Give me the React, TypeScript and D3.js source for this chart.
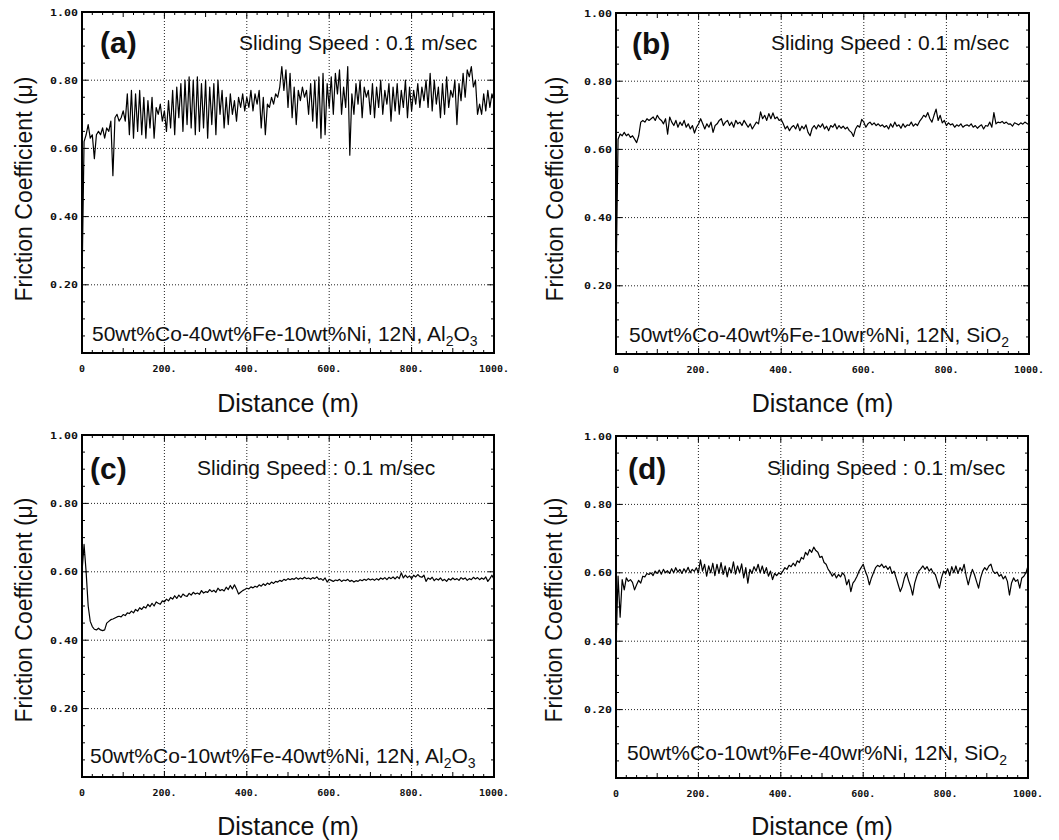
import * as d3 from "d3";
import React from "react";

const width = 1059;
const height = 840;

// sampling step of the recorded traces (m)
const stepM = 5;

const xTicks = [0, 200, 400, 600, 800, 1000];
const yTicks = [0.2, 0.4, 0.6, 0.8, 1.0];

// (a) 50Co-40Fe-10Ni vs Al2O3
const muA = [
  0.2, 0.62, 0.64, 0.67, 0.63, 0.64, 0.57, 0.64, 0.65, 0.64, 0.66, 0.63, 0.66, 0.65, 0.68, 0.52,
  0.69, 0.7, 0.68, 0.69, 0.71, 0.68, 0.76, 0.64, 0.77, 0.63, 0.76, 0.65, 0.77, 0.64, 0.75, 0.63,
  0.74, 0.66, 0.75, 0.63, 0.72, 0.7, 0.73, 0.68, 0.71, 0.65, 0.74, 0.66, 0.77, 0.64, 0.78, 0.69,
  0.79, 0.65, 0.8, 0.67, 0.81, 0.66, 0.8, 0.64, 0.81, 0.65, 0.79, 0.66, 0.8, 0.63, 0.78, 0.67,
  0.79, 0.64, 0.8, 0.7, 0.77, 0.66, 0.75, 0.67, 0.76, 0.7, 0.74, 0.68, 0.75, 0.72, 0.76, 0.71,
  0.75, 0.72, 0.77, 0.71, 0.76, 0.73, 0.77, 0.66, 0.75, 0.64, 0.73, 0.72, 0.75, 0.73, 0.76, 0.75,
  0.78, 0.84, 0.77, 0.83, 0.72, 0.82, 0.69, 0.78, 0.67, 0.77, 0.74, 0.78, 0.75, 0.77, 0.7, 0.79,
  0.68, 0.8, 0.66, 0.81, 0.63, 0.82, 0.64, 0.79, 0.72, 0.81, 0.7, 0.82, 0.76, 0.83, 0.7, 0.78,
  0.72, 0.84, 0.58, 0.76, 0.7, 0.79, 0.73, 0.8, 0.69, 0.78, 0.75, 0.77, 0.7, 0.79, 0.69, 0.78,
  0.72, 0.8, 0.7, 0.77, 0.73, 0.79, 0.68, 0.78, 0.71, 0.79, 0.7, 0.77, 0.72, 0.8, 0.69, 0.78,
  0.71, 0.77, 0.73, 0.79, 0.72, 0.78, 0.74, 0.8, 0.72, 0.82, 0.71, 0.8, 0.73, 0.78, 0.69, 0.79,
  0.7, 0.81, 0.72, 0.77, 0.75, 0.8, 0.67, 0.79, 0.74, 0.82, 0.75, 0.83, 0.81, 0.84, 0.78, 0.8,
  0.7, 0.73, 0.7, 0.76, 0.71, 0.77, 0.72, 0.76, 0.74,
];

// (b) 50Co-40Fe-10Ni vs SiO2
const muB = [
  0.2, 0.63, 0.645, 0.64, 0.65, 0.64, 0.645, 0.635, 0.64, 0.63, 0.62, 0.64, 0.68, 0.685, 0.68, 0.69,
  0.685, 0.69, 0.695, 0.685, 0.7, 0.69, 0.685, 0.675, 0.69, 0.645, 0.695, 0.68, 0.67, 0.685, 0.665, 0.68,
  0.67, 0.685, 0.665, 0.675, 0.66, 0.67, 0.648, 0.665, 0.675, 0.69, 0.675, 0.66, 0.675, 0.665, 0.68, 0.65,
  0.67, 0.675, 0.685, 0.69, 0.67, 0.68, 0.685, 0.67, 0.68, 0.665, 0.685, 0.675, 0.68, 0.67, 0.685, 0.675,
  0.665, 0.675, 0.66, 0.67, 0.68, 0.675, 0.71, 0.69, 0.7, 0.685, 0.705, 0.69, 0.707, 0.69, 0.695, 0.685,
  0.688, 0.675, 0.66, 0.668, 0.655, 0.665, 0.67, 0.66, 0.675, 0.655, 0.668, 0.66, 0.672, 0.65, 0.64, 0.662,
  0.67, 0.66, 0.672, 0.665, 0.675, 0.66, 0.668, 0.655, 0.67, 0.665, 0.675, 0.66, 0.67, 0.662, 0.668, 0.66,
  0.665, 0.655, 0.65, 0.638, 0.66, 0.67, 0.665, 0.688, 0.68, 0.665, 0.675, 0.68, 0.672, 0.678, 0.67, 0.675,
  0.668, 0.672, 0.665, 0.67, 0.66, 0.675, 0.665, 0.68, 0.668, 0.672, 0.662, 0.675, 0.665, 0.672, 0.67, 0.68,
  0.668, 0.675, 0.67, 0.682, 0.69, 0.7, 0.695, 0.708, 0.69, 0.68, 0.7, 0.718, 0.685, 0.7, 0.678, 0.685,
  0.67, 0.678, 0.672, 0.675, 0.665, 0.672, 0.668, 0.675, 0.665, 0.67, 0.672, 0.668, 0.675, 0.665, 0.67, 0.662,
  0.668, 0.672, 0.66, 0.67, 0.668, 0.68, 0.665, 0.708, 0.675, 0.68, 0.678, 0.682, 0.676, 0.68, 0.674, 0.675,
  0.668, 0.678, 0.675, 0.672, 0.678, 0.674, 0.68, 0.676, 0.672,
];

// (c) 50Co-10Fe-40Ni vs Al2O3
const muC = [
  0.6, 0.68, 0.6, 0.5, 0.455, 0.44, 0.432, 0.43, 0.435, 0.43, 0.428, 0.43, 0.45, 0.455, 0.46, 0.462,
  0.465, 0.468, 0.47, 0.468, 0.475, 0.472, 0.48, 0.478, 0.485, 0.48, 0.49, 0.485, 0.495, 0.49, 0.498, 0.494,
  0.505, 0.498, 0.508, 0.5, 0.512, 0.508, 0.505, 0.515, 0.512, 0.52, 0.515, 0.525, 0.52, 0.53, 0.522, 0.532,
  0.525, 0.535, 0.53, 0.528, 0.537, 0.532, 0.54, 0.535, 0.538, 0.534, 0.545, 0.538, 0.542, 0.54, 0.548, 0.542,
  0.546, 0.54, 0.552, 0.545, 0.548, 0.544, 0.555, 0.548, 0.56, 0.55, 0.562, 0.55, 0.535, 0.54, 0.545, 0.548,
  0.552, 0.55, 0.556, 0.553, 0.558, 0.555, 0.562, 0.558, 0.565, 0.56, 0.567, 0.563, 0.57, 0.566, 0.572, 0.57,
  0.575, 0.572, 0.578, 0.575, 0.58, 0.577, 0.58, 0.578, 0.583, 0.578, 0.582, 0.579, 0.584, 0.58, 0.582, 0.578,
  0.583, 0.58, 0.585, 0.578, 0.58, 0.575, 0.582, 0.57, 0.578, 0.575, 0.572, 0.576, 0.574, 0.578, 0.572, 0.576,
  0.574, 0.578, 0.572, 0.575, 0.57, 0.574, 0.572, 0.577, 0.574, 0.578, 0.575, 0.58, 0.576, 0.579, 0.575, 0.58,
  0.576, 0.582, 0.578, 0.583, 0.577, 0.584, 0.58, 0.585, 0.579, 0.586, 0.58, 0.597, 0.582, 0.59, 0.583, 0.588,
  0.58, 0.59, 0.585, 0.592, 0.586, 0.584, 0.59, 0.572, 0.582, 0.578, 0.584, 0.574, 0.58, 0.576, 0.582, 0.574,
  0.578, 0.572, 0.58, 0.576, 0.582, 0.577, 0.58, 0.575, 0.583, 0.578, 0.582, 0.575, 0.58, 0.577, 0.584, 0.579,
  0.583, 0.577, 0.582, 0.578, 0.585, 0.572, 0.58, 0.59, 0.578,
];

// (d) 50Co-10Fe-40Ni vs SiO2
const muD = [
  0.38, 0.59, 0.47, 0.58, 0.55, 0.585, 0.575, 0.58, 0.572, 0.55, 0.565, 0.578, 0.57, 0.59, 0.588, 0.598,
  0.595, 0.6, 0.592, 0.605, 0.598, 0.608, 0.596, 0.61, 0.6, 0.606, 0.598, 0.612, 0.6, 0.615, 0.602, 0.61,
  0.598, 0.612, 0.602, 0.616, 0.6, 0.61, 0.604, 0.615, 0.6, 0.638, 0.605, 0.625, 0.59, 0.62, 0.6, 0.628,
  0.592, 0.625, 0.598, 0.63, 0.595, 0.62, 0.588, 0.615, 0.6, 0.632, 0.596, 0.62, 0.6, 0.626, 0.585, 0.615,
  0.57, 0.61, 0.598, 0.618, 0.605, 0.625, 0.6, 0.62, 0.598, 0.615, 0.59, 0.605, 0.58, 0.598, 0.592, 0.6,
  0.596, 0.605, 0.615, 0.61, 0.622, 0.618, 0.628, 0.62, 0.635, 0.63, 0.645, 0.64, 0.66, 0.652, 0.668, 0.66,
  0.675, 0.665, 0.66, 0.645, 0.648, 0.63, 0.625, 0.61, 0.602, 0.59, 0.598, 0.585, 0.595, 0.588, 0.6, 0.592,
  0.565, 0.58, 0.545, 0.57, 0.578, 0.59, 0.605, 0.615, 0.625, 0.605, 0.59, 0.565, 0.585, 0.6, 0.615, 0.622,
  0.618, 0.625, 0.615, 0.62, 0.61, 0.618, 0.598, 0.605, 0.585, 0.565, 0.545, 0.56, 0.585, 0.6, 0.578, 0.56,
  0.535, 0.57, 0.59, 0.605, 0.612, 0.62, 0.61, 0.618, 0.605, 0.612, 0.6, 0.595, 0.575, 0.555, 0.585, 0.605,
  0.598, 0.612, 0.592, 0.618, 0.6, 0.62, 0.598, 0.615, 0.605, 0.625, 0.59, 0.565, 0.59, 0.61, 0.595, 0.575,
  0.555, 0.585, 0.605, 0.615, 0.608, 0.62, 0.625, 0.605, 0.598, 0.602, 0.59, 0.595, 0.582, 0.59, 0.575, 0.535,
  0.57, 0.585, 0.575, 0.58, 0.555, 0.585, 0.59, 0.6, 0.62,
];

const tags = ["(a)", "(b)", "(c)", "(d)"];
const alloys = [
  "50wt%Co-40wt%Fe-10wt%Ni, 12N, ",
  "50wt%Co-40wt%Fe-10wr%Ni, 12N, ",
  "50wt%Co-10wt%Fe-40wt%Ni, 12N, ",
  "50wt%Co-10wt%Fe-40wr%Ni, 12N, ",
];
const counterparts = [
  ["Al", "2", "O", "3"],
  ["SiO", "2", "", ""],
  ["Al", "2", "O", "3"],
  ["SiO", "2", "", ""],
];
const speedLabel = "Sliding Speed : 0.1 m/sec";
const series = [muA, muB, muC, muD];

// layout of each panel: plot box [left, top, right, bottom] and text offsets
const layout = [
  { box: [82, 12, 494, 353], tag: [18, 41], speed: [157, 37.5], alloy: [10, 12], ylab: 32, ycen: 189, xlabY: 412 },
  { box: [616, 13, 1029, 354], tag: [16, 41], speed: [155, 37], alloy: [13, 12], ylab: 563, ycen: 189, xlabY: 412 },
  { box: [82, 435, 494, 777], tag: [8, 44], speed: [115, 40], alloy: [8, 14], ylab: 32, ycen: 610, xlabY: 835 },
  { box: [616, 436, 1028, 778], tag: [12, 43], speed: [151, 39], alloy: [11, 18], ylab: 562, ycen: 610, xlabY: 835 },
];

const sans = "'Liberation Sans', Arial, sans-serif";
const mono = "'DejaVu Sans Mono', monospace";

const Panel = ({ i }: { i: number }) => {
  const L = layout[i];
  const [x0, y0, x1, y1] = L.box;
  const x = d3.scaleLinear().domain([0, 1000]).range([x0, x1]);
  const y = d3.scaleLinear().domain([0, 1]).range([y1, y0]);
  const path = d3
    .line<number>()
    .x((_, k) => x(k * stepM))
    .y((d) => y(d))(series[i]);
  const xMinor = d3.range(0, 1001, 25);
  const yMinor = d3.range(0, 21).map((k) => k * 0.05);
  const sub = counterparts[i];
  return (
    <g>
      {/* grid */}
      {xTicks.slice(1, -1).map((t) => (
        <line key={"gx" + t} x1={x(t)} x2={x(t)} y1={y0} y2={y1} stroke="#222" strokeWidth={1} strokeDasharray="1,2" />
      ))}
      {yTicks.slice(0, -1).map((t) => (
        <line key={"gy" + t} x1={x0} x2={x1} y1={y(t)} y2={y(t)} stroke="#222" strokeWidth={1} strokeDasharray="1,2" />
      ))}
      {/* minor / major ticks on all four sides */}
      {xMinor.map((t) => {
        const len = t % 200 === 0 ? 6 : t % 100 === 0 ? 5 : 3;
        return (
          <g key={"tx" + t} stroke="#000" strokeWidth={1}>
            <line x1={x(t)} x2={x(t)} y1={y1} y2={y1 - len} />
            <line x1={x(t)} x2={x(t)} y1={y0} y2={y0 + len} />
          </g>
        );
      })}
      {yMinor.map((t, k) => {
        const len = k % 4 === 0 ? 6 : 3;
        return (
          <g key={"ty" + k} stroke="#000" strokeWidth={1}>
            <line x1={x0} x2={x0 + len} y1={y(t)} y2={y(t)} />
            <line x1={x1} x2={x1 - len} y1={y(t)} y2={y(t)} />
          </g>
        );
      })}
      {/* trace */}
      <path d={path ?? ""} fill="none" stroke="#000" strokeWidth={1.2} strokeLinejoin="round" />
      {/* frame */}
      <rect x={x0} y={y0} width={x1 - x0} height={y1 - y0} fill="none" stroke="#000" strokeWidth={2} />
      {/* tick labels */}
      {yTicks.map((t) => (
        <text
          key={"ly" + t}
          x={x0 - 4}
          y={y(t) + 3.5}
          textAnchor="end"
          fontFamily={mono}
          fontWeight="bold"
          fontSize={9}
          textLength={28}
          lengthAdjust="spacingAndGlyphs"
          fill="#111"
        >
          {d3.format(".2f")(t)}
        </text>
      ))}
      {xTicks.map((t) => {
        const s = t === 0 ? "0" : `${t}.`;
        return (
          <text
            key={"lx" + t}
            x={x(t)}
            y={y1 + 19}
            textAnchor="middle"
            fontFamily={mono}
            fontWeight="bold"
            fontSize={9}
            textLength={s.length * 6}
            lengthAdjust="spacingAndGlyphs"
            fill="#111"
          >
            {s}
          </text>
        );
      })}
      {/* annotations */}
      <text x={x0 + L.tag[0]} y={y0 + L.tag[1]} fontFamily={sans} fontWeight="bold" fontSize={30} fill="#111">
        {tags[i]}
      </text>
      <text x={x0 + L.speed[0]} y={y0 + L.speed[1]} fontFamily={sans} fontSize={21} fill="#111">
        {speedLabel}
      </text>
      <text x={x0 + L.alloy[0]} y={y1 - L.alloy[1]} fontFamily={sans} fontSize={21} fill="#111">
        {alloys[i]}
        {sub[0]}
        <tspan fontSize={14} dy={5}>{sub[1]}</tspan>
        {sub[2] && <tspan dy={-5}>{sub[2]}</tspan>}
        {sub[3] && <tspan fontSize={14} dy={5}>{sub[3]}</tspan>}
      </text>
      {/* axis titles */}
      <text
        transform={`translate(${L.ylab},${L.ycen}) rotate(-90)`}
        textAnchor="middle"
        fontFamily={sans}
        fontSize={23}
        fill="#111"
      >
        Friction Coefficient (μ)
      </text>
      <text x={(x0 + x1) / 2} y={L.xlabY} textAnchor="middle" fontFamily={sans} fontSize={25} fill="#111">
        Distance (m)
      </text>
    </g>
  );
};

const App = () => (
  <svg width={width} height={height} style={{ position: "absolute", left: 0, top: 0, background: "#fff" }}>
    <rect width={width} height={height} fill="#fff" />
    {[0, 1, 2, 3].map((i) => (
      <Panel key={i} i={i} />
    ))}
  </svg>
);

export default App;
